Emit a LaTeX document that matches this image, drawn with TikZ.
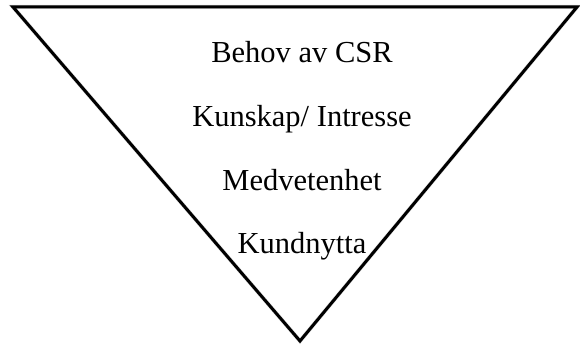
\documentclass[tikz,border=0pt]{standalone}
\usepackage{fontspec}
\setmainfont{Liberation Serif}
\definecolor{funnelcolor0000}{RGB}{0,0,0}
\definecolor{funnelcolor0001}{RGB}{200,200,200}
\begin{document}
\begin{tikzpicture}[yscale=-1
                ,pstyle1/.style={color=funnelcolor0001,line width=4pt,line join=miter,opacity=0.7}
                ,pstyle2/.style={color=funnelcolor0000,line width=3pt,line join=miter}
                ,pstyle3/.style={color=black,font=\fontsize{30.5pt}{36pt}\selectfont,inner sep=0pt,anchor=base}
            ]
            \useasboundingbox (0pt,0pt) rectangle (580pt,347pt);
            \coordinate (tl) at (13pt,7pt);
            \coordinate (tr) at (577pt,7pt);
            \coordinate (apex) at (300pt,341pt);
            \draw[pstyle1,shift={(3pt,3pt)}] (tl) -- (tr) -- (apex) -- cycle;
            \draw[pstyle2] (tl) -- (tr) -- (apex) -- cycle;
            \node (behov) at (302pt,63pt)[pstyle3]{Behov av CSR};
            \node (kunskap) at (302pt,127pt)[pstyle3]{Kunskap/ Intresse};
            \node (medvetenhet) at (302pt,191pt)[pstyle3]{Medvetenhet};
            \node (kundnytta) at (302pt,253pt)[pstyle3]{Kundnytta};
        \end{tikzpicture}
\end{document}
